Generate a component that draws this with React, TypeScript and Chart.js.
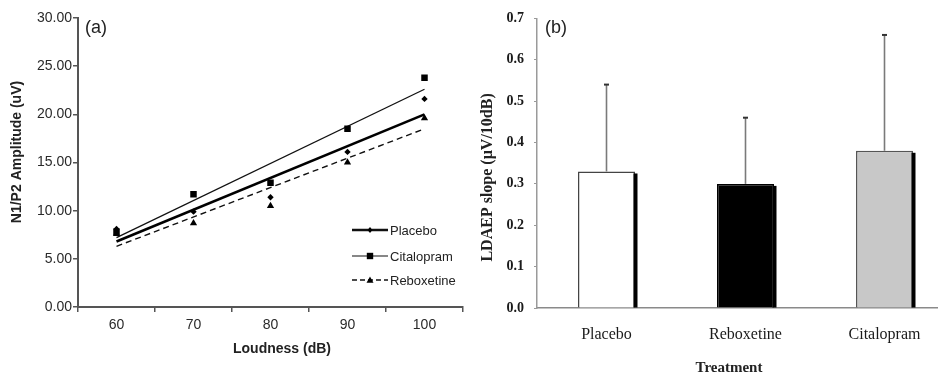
import React, { useEffect, useRef } from 'react';
import { Chart, registerables } from 'chart.js';
Chart.register(...registerables);

// ---------- Panel (a) data ----------
const loudness = ['60', '70', '80', '90', '100'];
const placebo = [8.1, 9.9, 11.4, 16.1, 21.6];
const citalopram = [7.8, 11.7, 12.9, 18.5, 23.8];
const reboxetine = [7.6, 8.7, 10.5, 15.0, 19.6];
// trend lines at 60 dB and 100 dB
const placeboFit = [6.8, 20.0];
const citalopramFit = [7.2, 22.6];
const reboxetineFit = [6.3, 18.5];
const legendNames = ['Placebo', 'Citalopram', 'Reboxetine'];

// ---------- Panel (b) data ----------
const treatments = ['Placebo', 'Reboxetine', 'Citalopram'];
const slopes = [0.33, 0.3, 0.38];
const slopeUpper = [0.54, 0.46, 0.66];
const barFills = ['#ffffff', '#000000', '#c8c8c8'];
const barBorders = ['#444444', '#000000', '#555555'];

const SANS = '"Liberation Sans", Arial, sans-serif';
const SERIF = '"Liberation Serif", "Times New Roman", serif';

function fitLine(f: number[]) {
  return [f[0], null, null, null, f[1]];
}

function drawMarker(ctx: CanvasRenderingContext2D, kind: string, x: number, y: number, r: number) {
  ctx.beginPath();
  if (kind === 'diamond') {
    ctx.moveTo(x, y - r);
    ctx.lineTo(x + r * 0.8, y);
    ctx.lineTo(x, y + r);
    ctx.lineTo(x - r * 0.8, y);
  } else if (kind === 'square') {
    ctx.rect(x - r, y - r, 2 * r, 2 * r);
  } else {
    ctx.moveTo(x, y - r);
    ctx.lineTo(x + r, y + r * 0.8);
    ctx.lineTo(x - r, y + r * 0.8);
  }
  ctx.closePath();
  ctx.fill();
}

const panelAPlugin = {
  id: 'panelA',
  afterDraw(chart: any) {
    const { ctx, chartArea } = chart;
    const { left, right, top, bottom } = chartArea;
    ctx.save();
    ctx.fillStyle = '#222';
    ctx.font = `18px ${SANS}`;
    ctx.textAlign = 'left';
    ctx.textBaseline = 'middle';
    ctx.fillText('(a)', left + 7, top + 10);
    ctx.font = `bold 14px ${SANS}`;
    ctx.textAlign = 'center';
    ctx.fillText('Loudness (dB)', left + 204, bottom + 42);
    ctx.save();
    ctx.translate(left - 61, top + 134);
    ctx.rotate(-Math.PI / 2);
    ctx.fillText('N1/P2 Amplitude (uV)', 0, 0);
    ctx.restore();
    const kinds = ['diamond', 'square', 'triangle'];
    const widths = [2.5, 1.2, 1.4];
    const dashes = [[], [], [5, 3]];
    const rows = [bottom - 77, bottom - 51, bottom - 27];
    const sizes = [3, 3.2, 3.5];
    ctx.font = `13px ${SANS}`;
    ctx.textAlign = 'left';
    for (let i = 0; i < 3; i++) {
      const y = rows[i];
      const x0 = right - 111;
      const x1 = right - 75;
      ctx.strokeStyle = '#111';
      ctx.lineWidth = widths[i];
      ctx.setLineDash(dashes[i]);
      ctx.beginPath();
      ctx.moveTo(x0, y);
      ctx.lineTo(x1, y);
      ctx.stroke();
      ctx.setLineDash([]);
      ctx.fillStyle = '#000';
      drawMarker(ctx, kinds[i], (x0 + x1) / 2, y, sizes[i]);
      ctx.fillStyle = '#222';
      ctx.fillText(legendNames[i], x1 + 2, y + 1);
    }
    ctx.restore();
  },
};

const panelBPlugin = {
  id: 'panelB',
  afterDatasetsDraw(chart: any) {
    const { ctx, scales } = chart;
    const meta = chart.getDatasetMeta(0);
    ctx.save();
    meta.data.forEach((el: any, i: number) => {
      const { x, y, base, width } = el.getProps(['x', 'y', 'base', 'width'], true);
      ctx.fillStyle = '#000';
      ctx.fillRect(x + width / 2 - 1.5, y + 2, 4, base - y - 2);
      const yTop = scales.y.getPixelForValue(slopeUpper[i]);
      ctx.strokeStyle = '#7a7a7a';
      ctx.lineWidth = 1.6;
      ctx.beginPath();
      ctx.moveTo(x, y);
      ctx.lineTo(x, yTop);
      ctx.stroke();
      ctx.strokeStyle = '#333';
      ctx.lineWidth = 2;
      ctx.beginPath();
      ctx.moveTo(x - 2.5, yTop);
      ctx.lineTo(x + 2.5, yTop);
      ctx.stroke();
    });
    ctx.restore();
  },
  afterDraw(chart: any) {
    const { ctx, chartArea } = chart;
    const { left, top, bottom } = chartArea;
    ctx.save();
    ctx.fillStyle = '#222';
    ctx.font = `18px ${SANS}`;
    ctx.textAlign = 'left';
    ctx.textBaseline = 'middle';
    ctx.fillText('(b)', left + 8, top + 10);
    ctx.font = `bold 15px ${SERIF}`;
    ctx.textAlign = 'center';
    ctx.fillText('Treatment', left + 192, bottom + 60);
    ctx.font = `bold 16px ${SERIF}`;
    ctx.translate(left - 49, top + 159);
    ctx.rotate(-Math.PI / 2);
    ctx.fillText('LDAEP slope (\u00b5V/10dB)', 0, 0);
    ctx.restore();
  },
};

function PanelA() {
  const ref = useRef<HTMLCanvasElement>(null);
  useEffect(() => {
    const chart = new Chart(ref.current!, {
      type: 'line',
      data: {
        labels: loudness,
        datasets: [
          { data: placebo, showLine: false, pointStyle: 'rectRot', pointRadius: 3.2, backgroundColor: '#000', borderColor: '#000', pointBorderWidth: 0 },
          { data: citalopram, showLine: false, pointStyle: 'rect', pointRadius: 4.6, backgroundColor: '#000', borderColor: '#000', pointBorderWidth: 0 },
          { data: reboxetine, showLine: false, pointStyle: 'triangle', pointRadius: 4.2, backgroundColor: '#000', borderColor: '#000', pointBorderWidth: 0 },
          { data: fitLine(placeboFit), spanGaps: true, pointRadius: 0, borderColor: '#000', borderWidth: 2.6 },
          { data: fitLine(citalopramFit), spanGaps: true, pointRadius: 0, borderColor: '#111', borderWidth: 1.3 },
          { data: fitLine(reboxetineFit), spanGaps: true, pointRadius: 0, borderColor: '#111', borderWidth: 1.4, borderDash: [6, 4] },
        ] as any,
      },
      options: {
        animation: false,
        responsive: false,
        layout: { padding: { top: 18, right: 7, left: 0, bottom: 0 } },
        plugins: { legend: { display: false }, tooltip: { enabled: false } },
        scales: {
          x: {
            type: 'category',
            offset: true,
            grid: { offset: true, drawOnChartArea: false, drawTicks: true, tickLength: 5, tickColor: '#555', lineWidth: 1.5 },
            border: { display: true, color: '#555', width: 2 },
            ticks: { color: '#2a2a2a', font: { family: SANS, size: 14 }, padding: 5, maxRotation: 0 },
            afterFit: (s: any) => { s.height = 68; },
          },
          y: {
            min: 0,
            max: 30,
            grid: { drawOnChartArea: false, drawTicks: true, tickLength: 5, tickColor: '#555', lineWidth: 1.5 },
            border: { display: true, color: '#555', width: 2 },
            ticks: { stepSize: 5, color: '#2a2a2a', font: { family: SANS, size: 14 }, padding: 1, callback: (v: any) => Number(v).toFixed(2) },
            afterFit: (s: any) => { s.width = 78; },
          },
        },
      } as any,
      plugins: [panelAPlugin],
    });
    return () => chart.destroy();
  }, []);
  return <canvas ref={ref} width={470} height={375} style={{ position: 'absolute', left: 0, top: 0 }} />;
}

function PanelB() {
  const ref = useRef<HTMLCanvasElement>(null);
  useEffect(() => {
    const chart = new Chart(ref.current!, {
      type: 'bar',
      data: {
        labels: treatments,
        datasets: [
          {
            data: slopes,
            backgroundColor: barFills,
            borderColor: barBorders,
            borderWidth: 1.5,
            categoryPercentage: 1,
            barPercentage: 0.41,
          },
        ],
      },
      options: {
        animation: false,
        responsive: false,
        layout: { padding: { top: 18, right: 0, left: 0, bottom: 0 } },
        plugins: { legend: { display: false }, tooltip: { enabled: false } },
        scales: {
          x: {
            grid: { display: false, drawTicks: false },
            border: { display: true, color: '#8a8a8a', width: 1.5 },
            ticks: { color: '#1a1a1a', font: { family: SERIF, size: 16 }, padding: 17 },
            afterFit: (s: any) => { s.height = 67; },
          },
          y: {
            min: 0,
            max: 0.7,
            grid: { drawOnChartArea: false, drawTicks: true, tickLength: 3, tickColor: '#999' },
            border: { display: true, color: '#9a9a9a', width: 1.5 },
            ticks: { stepSize: 0.1, color: '#1a1a1a', font: { family: SERIF, size: 14, weight: 'bold' }, padding: 10, callback: (v: any) => Number(v).toFixed(1) },
            afterFit: (s: any) => { s.width = 67; },
          },
        },
      } as any,
      plugins: [panelBPlugin],
    });
    return () => chart.destroy();
  }, []);
  return <canvas ref={ref} width={484} height={375} style={{ position: 'absolute', left: 470, top: 0 }} />;
}

export default function App() {
  return (
    <div style={{ position: 'fixed', left: 0, top: 0, width: 938, height: 375, overflow: 'hidden', background: '#fff' }}>
      <PanelA />
      <PanelB />
    </div>
  );
}
